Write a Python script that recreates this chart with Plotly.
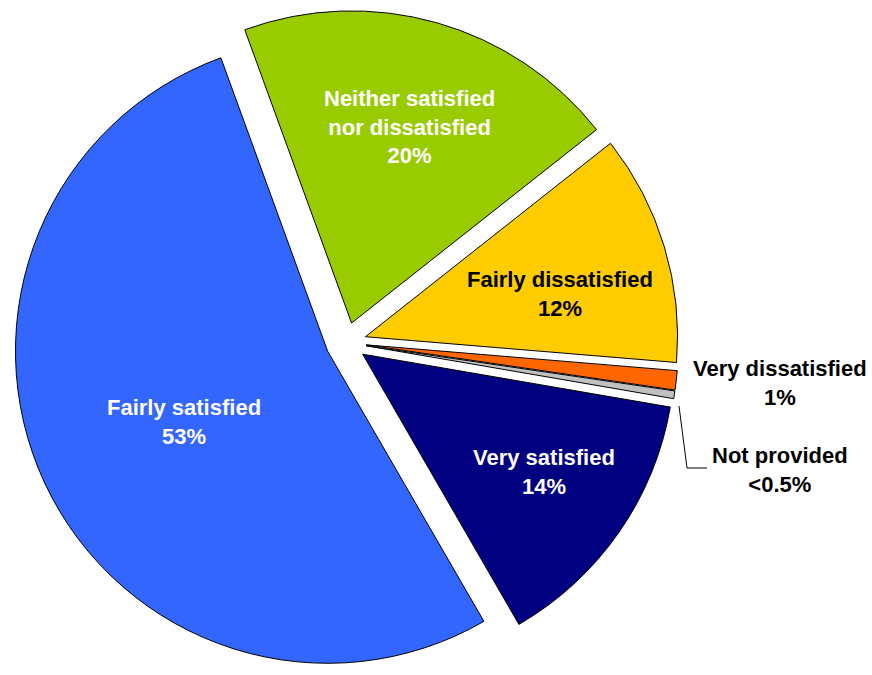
import plotly.graph_objects as go

# Survey responses, in clockwise drawing order starting near 12 o'clock
categories = [
    "Neither satisfied nor dissatisfied",
    "Fairly dissatisfied",
    "Very dissatisfied",
    "Not provided",
    "Very satisfied",
    "Fairly satisfied",
]
shares = [20, 12, 1, 0.4, 14, 53]
share_labels = ["20%", "12%", "1%", "<0.5%", "14%", "53%"]
label_lines = [
    "Neither satisfied<br>nor dissatisfied",
    "Fairly dissatisfied",
    "Very dissatisfied",
    "Not provided",
    "Very satisfied",
    "Fairly satisfied",
]
slice_colors = ["#99CC00", "#FFCC00", "#FF6600", "#C0C0C0", "#000080", "#3366FF"]
text_colors = ["white", "black", "black", "black", "white", "white"]

W, H = 872, 675

fig = go.Figure(
    go.Pie(
        labels=categories,
        values=shares,
        sort=False,
        direction="clockwise",
        rotation=-20,
        pull=[0.065] * len(shares),
        marker=dict(colors=slice_colors, line=dict(color="black", width=1)),
        textinfo="none",
        hoverinfo="label+percent",
        domain=dict(x=[0.0, 0.7936], y=[0.0, 0.985]),
        showlegend=False,
    )
)

# label anchor points (pixels) for each slice's caption
label_px = [(409.5, 127), (560, 294), (780, 383), (780, 470), (544, 472), (184, 422)]

for name, pct, (px, py), tc in zip(label_lines, share_labels, label_px, text_colors):
    fig.add_annotation(
        x=px / W, y=1 - py / H, xref="paper", yref="paper",
        text=f"<b>{name}<br>{pct}</b>",
        showarrow=False, xanchor="center", yanchor="middle",
        font=dict(family="Liberation Sans, Arial, sans-serif", size=22, color=tc),
        align="center",
    )

# leader line from the thin "Not provided" slice to its caption
pts = [(679, 406), (687, 468), (707, 468)]
path = "M " + " L ".join(f"{x / W},{1 - y / H}" for x, y in pts)
fig.add_shape(type="path", path=path, xref="paper", yref="paper",
              line=dict(color="black", width=1))

fig.update_layout(
    width=W, height=H,
    margin=dict(l=0, r=0, t=0, b=0),
    paper_bgcolor="white", plot_bgcolor="white",
)

fig.write_html("out.html")
